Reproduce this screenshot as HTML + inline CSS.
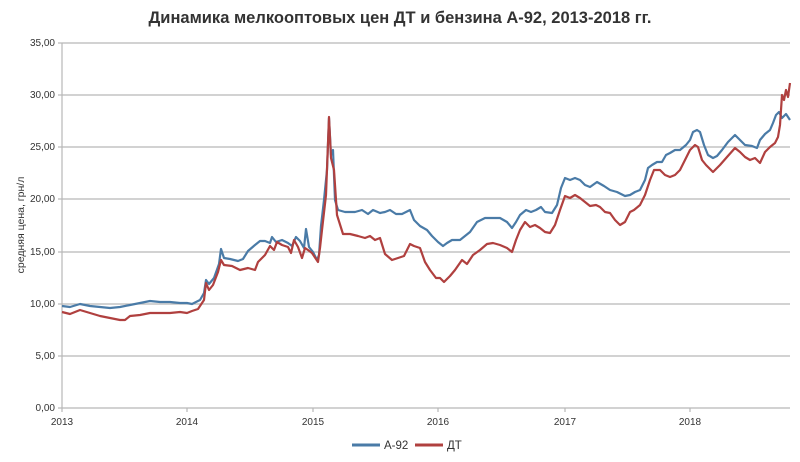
<!DOCTYPE html>
<html><head><meta charset="utf-8"><style>body{margin:0;background:#fff}svg{display:block}</style></head><body>
<svg width="800" height="462" xmlns="http://www.w3.org/2000/svg" font-family="Liberation Sans, sans-serif">
<rect width="800" height="462" fill="#fff"/>
<text x="400" y="23" text-anchor="middle" font-size="16.5" font-weight="bold" fill="#333">Динамика мелкооптовых цен ДТ и бензина А-92, 2013-2018 гг.</text>
<g stroke="#b8b8b8" stroke-width="1.2">
<line x1="62" y1="43" x2="790" y2="43"/><line x1="62" y1="95" x2="790" y2="95"/><line x1="62" y1="147" x2="790" y2="147"/><line x1="62" y1="199" x2="790" y2="199"/><line x1="62" y1="252" x2="790" y2="252"/><line x1="62" y1="304" x2="790" y2="304"/><line x1="62" y1="356" x2="790" y2="356"/><line x1="62" y1="408" x2="790" y2="408"/>
<line x1="62" y1="43" x2="62" y2="408"/>
<line x1="58" y1="43" x2="62" y2="43"/><line x1="58" y1="95" x2="62" y2="95"/><line x1="58" y1="147" x2="62" y2="147"/><line x1="58" y1="199" x2="62" y2="199"/><line x1="58" y1="252" x2="62" y2="252"/><line x1="58" y1="304" x2="62" y2="304"/><line x1="58" y1="356" x2="62" y2="356"/><line x1="58" y1="408" x2="62" y2="408"/>
<line x1="62" y1="408" x2="62" y2="412"/><line x1="187" y1="408" x2="187" y2="412"/><line x1="313" y1="408" x2="313" y2="412"/><line x1="438" y1="408" x2="438" y2="412"/><line x1="565" y1="408" x2="565" y2="412"/><line x1="690" y1="408" x2="690" y2="412"/>
</g>
<g font-size="10" fill="#333" text-anchor="end">
<text x="55" y="46">35,00</text><text x="55" y="98">30,00</text><text x="55" y="150">25,00</text><text x="55" y="202">20,00</text><text x="55" y="255">15,00</text><text x="55" y="307">10,00</text><text x="55" y="359">5,00</text><text x="55" y="411">0,00</text>
</g>
<g font-size="10" fill="#333" text-anchor="middle">
<text x="62" y="425">2013</text><text x="187" y="425">2014</text><text x="313" y="425">2015</text><text x="438" y="425">2016</text><text x="565" y="425">2017</text><text x="690" y="425">2018</text>
</g>
<text transform="translate(24,225) rotate(-90)" text-anchor="middle" font-size="10.5" fill="#333">средняя цена, грн/л</text>
<polyline fill="none" stroke="#4a7ba7" stroke-width="2.2" stroke-linejoin="round" points="62,306 70,307 80,304 90,306 100,307 110,308 120,307 130,305 140,303 150,301 160,302 170,302 180,303 187,303 192,304 200,300 204,293 206,280 209,284 214,278 219,264 221,249 224,258 230,259 238,261 243,259 248,251 255,245 260,241 265,241 270,243 272,237 276,242 282,240 288,243 292,246 296,237 300,241 304,248 306,229 309,247 313,252 317,260 319,255 321,226 324,200 327,170 329,118 331,155 333,150 335,200 338,210 345,212 355,212 362,210 368,214 373,210 380,213 385,212 390,210 396,214 402,214 410,210 414,220 420,226 427,230 432,236 438,242 443,246 447,243 452,240 460,240 465,236 470,232 477,222 485,218 492,218 500,218 507,222 512,228 516,222 520,215 526,210 531,212 536,210 541,207 545,212 552,213 557,205 561,188 565,178 570,180 575,178 580,180 585,185 590,187 597,182 604,186 610,190 617,192 625,196 630,195 635,192 640,190 645,180 648,168 652,165 657,162 662,162 666,155 670,153 675,150 680,150 686,145 690,140 693,132 697,130 700,132 704,145 708,155 713,158 717,156 722,150 728,142 735,135 740,140 745,145 752,146 757,148 760,140 765,134 770,130 773,123 776,115 779,112 782,118 786,114 790,120"/>
<polyline fill="none" stroke="#b0403f" stroke-width="2.2" stroke-linejoin="round" points="62,312 70,314 80,310 90,313 100,316 110,318 120,320 125,320 130,316 140,315 150,313 160,313 170,313 180,312 187,313 192,311 198,309 204,300 206,283 209,290 213,285 218,272 221,260 224,265 232,266 240,270 248,268 255,270 258,262 265,255 270,246 274,250 277,242 282,245 288,247 291,253 294,240 298,247 302,258 305,248 308,250 312,253 318,262 320,248 322,230 326,195 329,117 331,158 334,170 337,215 343,234 350,234 358,236 365,238 370,236 375,240 380,238 385,254 392,260 398,258 404,256 410,244 414,246 420,248 425,262 430,270 436,278 440,278 444,282 450,276 455,270 462,260 467,264 473,255 480,250 487,244 493,243 500,245 507,248 512,252 516,240 520,230 525,222 530,227 535,225 540,228 545,232 550,233 555,225 560,210 565,196 570,198 575,195 580,198 585,202 590,206 596,205 600,207 605,212 610,213 615,220 620,225 625,222 630,212 634,210 640,205 645,195 650,180 654,170 660,170 665,175 670,177 675,175 680,170 685,160 690,150 695,145 698,147 702,160 706,165 713,172 720,165 727,157 735,148 740,152 745,157 750,160 755,158 760,163 765,152 770,147 775,143 778,137 780,125 782,95 784,100 786,90 788,97 790,83"/>
<line x1="352" y1="445" x2="380" y2="445" stroke="#4a7ba7" stroke-width="3"/>
<text x="384" y="449" font-size="11.5" fill="#333">А-92</text>
<line x1="415" y1="445" x2="443" y2="445" stroke="#b0403f" stroke-width="3"/>
<text x="447" y="449" font-size="11.5" fill="#333">ДТ</text>
</svg>
</body></html>
